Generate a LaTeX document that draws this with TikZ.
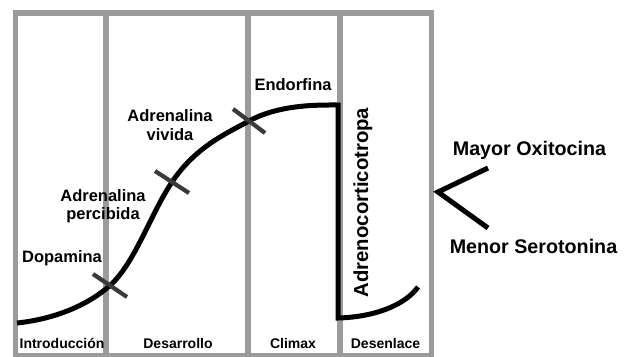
\documentclass[tikz,border=0pt]{standalone}
\usepackage{fontspec}
\setmainfont{Liberation Sans}
\definecolor{framegray}{RGB}{155,155,155}
\definecolor{tickgray}{RGB}{58,58,58}
\tikzset{
  frameline/.style={draw=framegray, line width=5.5pt},
  curveline/.style={draw=black, line width=5pt, line join=miter},
  tickline/.style={draw=tickgray, line width=4.2pt},
  lbl/.style={font=\bfseries\fontsize{16.5}{18.4}\selectfont, inner sep=0pt, align=center},
  phase/.style={font=\bfseries\fontsize{14}{16}\selectfont, inner sep=0pt, anchor=base},
  side/.style={font=\bfseries\fontsize{19.7}{22}\selectfont, inner sep=0pt, anchor=base}
}
\begin{document}
\begin{tikzpicture}[x=1pt,y=-1pt]
\useasboundingbox (0,0) rectangle (628,356);
% frame
\coordinate (tl) at (15.5,13);
\coordinate (br) at (431.5,355.5);
\draw[frameline] (tl) rectangle (br);
\draw[frameline] (106,13) -- (106,356);
\draw[frameline] (248,13) -- (248,356);
\draw[frameline] (340,13) -- (340,356);
% curve
\coordinate (c0) at (17,323);
\coordinate (c1) at (110,285.5);
\coordinate (c2) at (172,182);
\coordinate (c3) at (249,121);
\coordinate (c4) at (338,105);
\coordinate (c5) at (338,318);
\coordinate (c6) at (418,287);
\draw[curveline] (c0) .. controls (55,319) and (88,305) .. (c1)
  .. controls (135,263) and (150,215) .. (c2)
  .. controls (195,148) and (223,135) .. (c3)
  .. controls (280,104) and (320,105) .. (c4)
  -- (c5) .. controls (375,317) and (405,305) .. (c6);
% ticks
\coordinate (t1a) at (93,274); \coordinate (t1b) at (127,297);
\coordinate (t2a) at (155,171); \coordinate (t2b) at (189,193);
\coordinate (t3a) at (233,109); \coordinate (t3b) at (265,133);
\draw[tickline] (t1a) -- (t1b);
\draw[tickline] (t2a) -- (t2b);
\draw[tickline] (t3a) -- (t3b);
% labels
\node[lbl, anchor=base] (endo) at (293,90) {Endorfina};
\node[lbl, anchor=base] (dopa) at (62,262) {Dopamina};
\node[lbl] (viv) at (170,125) {Adrenalina\\vivida};
\node[lbl] (perc) at (103,206) {Adrenalina\\percibida};
\node[font=\bfseries\fontsize{20.3}{22}\selectfont, inner sep=0pt, anchor=base, rotate=90] (adreno) at (368,202.5) {Adrenocorticotropa};
% phases
\node[phase] (intro) at (62,348) {Introducción};
\node[phase] (desa) at (178,348) {Desarrollo};
\node[phase] (clim) at (293,348) {Climax};
\node[phase] (dese) at (385.5,348) {Desenlace};
% right side
\node[side] (mayor) at (529.5,155) {Mayor Oxitocina};
\node[side] (menor) at (533.5,253) {Menor Serotonina};
\coordinate (v0) at (488,168);
\coordinate (v1) at (438,192);
\coordinate (v2) at (488,228);
\draw[curveline] (v0) -- (v1) -- (v2);
\end{tikzpicture}
\end{document}
